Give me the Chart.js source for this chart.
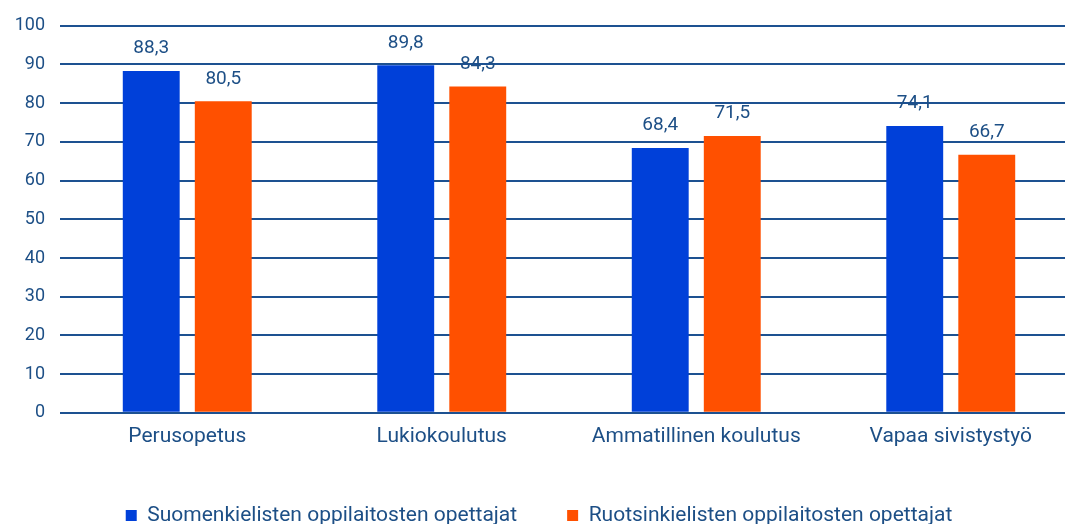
<!DOCTYPE html>
<html>
<head>
  <title>Opettajat</title>
  <script src="https://cdn.jsdelivr.net/npm/chart.js"></script>
  <style>
    body { margin: 0; overflow: hidden; background: #fff; }
    #wrap { width: 1078px; height: 536px; }
  </style>
</head>
<body>
    <div id="wrap">
        <canvas id="myChart"></canvas>
    </div>

      <script>
// Data
const categories = ['Perusopetus', 'Lukiokoulutus', 'Ammatillinen koulutus', 'Vapaa sivistystyö'];
const finnishValues = [88.3, 89.8, 68.4, 74.1];
const swedishValues = [80.5, 84.3, 71.5, 66.7];
const seriesNames = ['Suomenkielisten oppilaitosten opettajat', 'Ruotsinkielisten oppilaitosten opettajat'];
const yTicks = [0, 10, 20, 30, 40, 50, 60, 70, 80, 90, 100];

const textColor = '#1d4f86';
const fontFamily = 'Roboto, sans-serif';

// Value labels above the bars
const valueLabels = {
  id: 'valueLabels',
  afterDatasetsDraw(chart) {
    const ctx = chart.ctx;
    ctx.save();
    ctx.fillStyle = textColor;
    ctx.font = '19px ' + fontFamily;
    ctx.textAlign = 'center';
    ctx.textBaseline = 'bottom';
    chart.data.datasets.forEach((ds, i) => {
      chart.getDatasetMeta(i).data.forEach((bar, j) => {
        const label = ds.data[j].toFixed(1).replace('.', ',');
        ctx.fillText(label, bar.x, bar.y - 13);
      });
    });
    ctx.restore();
  }
};

const ctx = document.getElementById('myChart');
const chart = new Chart(ctx, {
  type: 'bar',
  data: {
    labels: categories,
    datasets: [{
      label: seriesNames[0],
      data: finnishValues,
      backgroundColor: '#0040d9',
      categoryPercentage: 0.566,
      barPercentage: 0.79
    }, {
      label: seriesNames[1],
      data: swedishValues,
      backgroundColor: '#ff5000',
      categoryPercentage: 0.566,
      barPercentage: 0.79
    }]
  },
  options: {
    responsive: true,
    maintainAspectRatio: false,
    animation: false,
    layout: { padding: { top: 14, right: 0, left: 0, bottom: 0 } },
    plugins: {
      tooltip: { enabled: false },
      legend: {
        position: 'bottom',
        labels: {
          color: textColor,
          font: { family: fontFamily, size: 21 },
          boxWidth: 11,
          boxHeight: 11,
          padding: 50
        }
      }
    },
    scales: {
      x: {
        grid: { display: false },
        border: { display: false },
        ticks: { color: textColor, font: { family: fontFamily, size: 21 }, padding: 3 },
        afterFit: scale => { scale.height += 3; }
      },
      y: {
        min: 0,
        max: 100,
        afterBuildTicks: scale => { scale.ticks = yTicks.map(v => ({ value: v })); },
        afterFit: scale => { scale.width = 60; },
        border: { display: false },
        grid: { color: '#1d5191', lineWidth: 2, drawTicks: false },
        ticks: { color: textColor, font: { family: fontFamily, size: 18 }, padding: 15 }
      }
    }
  },
  plugins: [valueLabels]
});
      </script>

</body>
</html>
